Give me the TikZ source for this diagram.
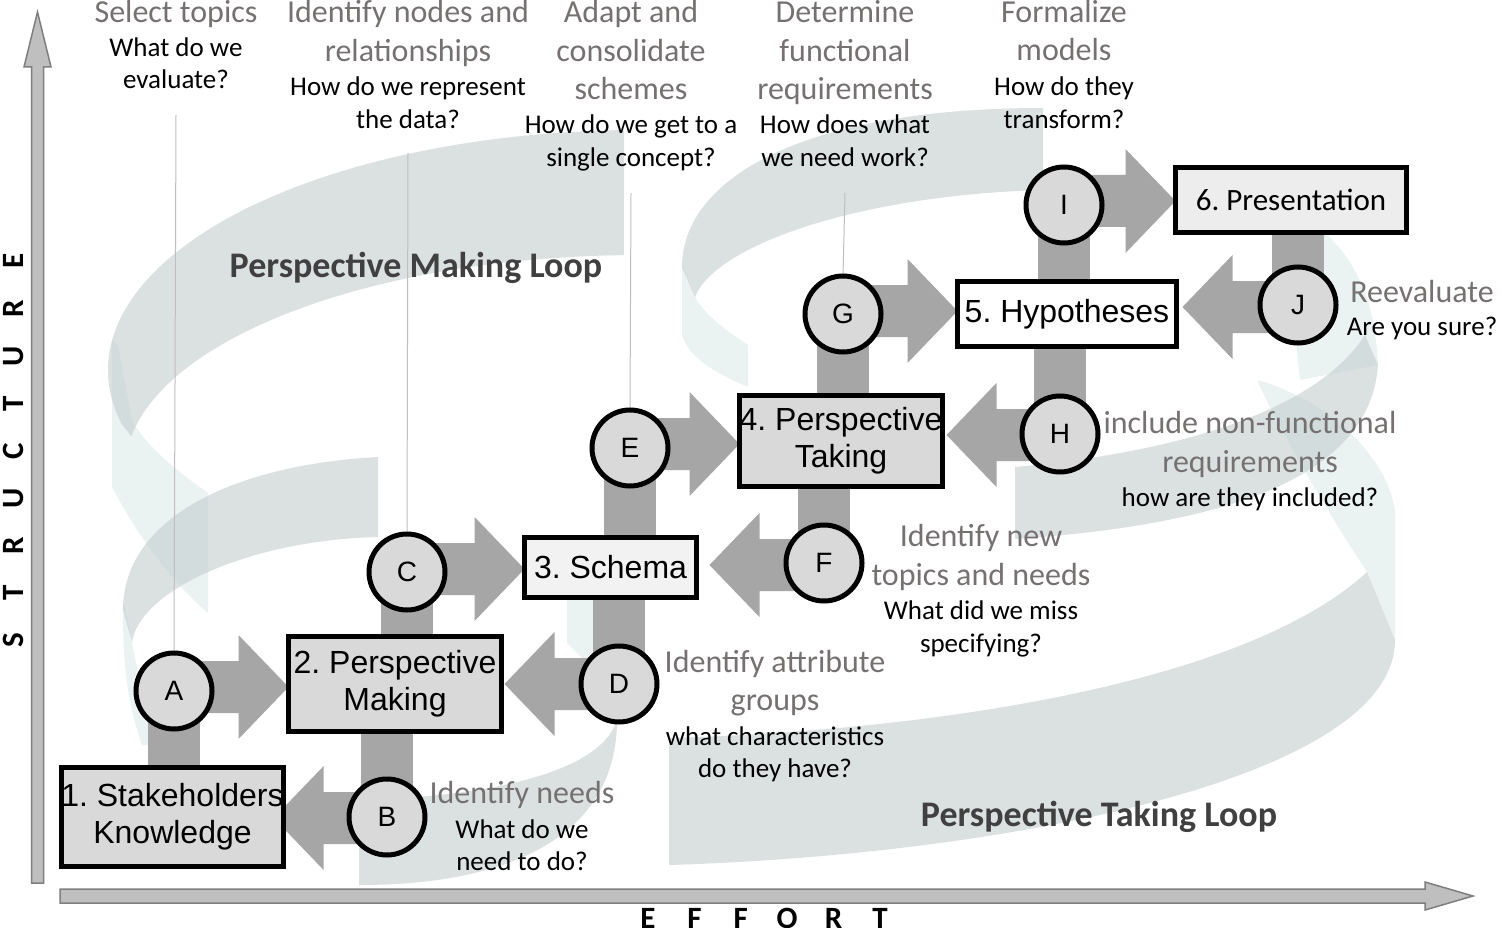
\documentclass[tikz,border=0pt]{standalone}
\usepackage{fontspec}
\setmainfont{Carlito}
\newfontfamily\arialf{Liberation Sans}
\usetikzlibrary{calc}
\frenchspacing
\pgfdeclarelayer{bands}
\pgfdeclarelayer{links}
\pgfsetlayers{bands,links,main}
\definecolor{conn}{HTML}{A6A6A6}
\definecolor{boxD}{HTML}{D9D9D9}
\definecolor{boxL}{HTML}{F2F2F2}
\definecolor{boxP}{HTML}{EDEDED}
\definecolor{txtgray}{HTML}{767171}
\definecolor{loopgray}{HTML}{404040}
\definecolor{axfill}{HTML}{BFBFBF}
\definecolor{axline}{HTML}{7F7F7F}
\definecolor{bandbase}{HTML}{C8D1D1}
\definecolor{bandlight}{HTML}{EAF2F2}
\definecolor{leader}{HTML}{BFBFBF}
\tikzset{
 stepbox/.style={draw=black, line width=5pt, rectangle, inner sep=0pt, outer sep=0pt, align=center, font=\frenchspacing\arialf\fontsize{32}{37}\selectfont},
 stepcircle/.style={draw=black, line width=5pt, circle, fill=boxD, minimum size=76pt, inner sep=0pt, outer sep=0pt, font=\arialf\fontsize{28}{32}\selectfont},
 linkfill/.style={fill=conn},
 bandD/.style={fill=bandbase, fill opacity=0.65},
 bandL/.style={fill=bandlight},
 gtxt/.style={anchor=base, inner sep=0pt, text=txtgray, font=\fontsize{32}{38}\selectfont},
 btxt/.style={anchor=base, inner sep=0pt, text=black, font=\fontsize{27}{32}\selectfont},
 loopl/.style={anchor=base, inner sep=0pt, text=loopgray, font=\bfseries\fontsize{36}{41}\selectfont},
 axisfill/.style={fill=axfill, draw=axline, line width=1.5pt},
 axtxt/.style={inner sep=0pt, font=\bfseries\fontsize{31}{36}\selectfont},
 leaderline/.style={draw=leader, line width=1pt},
}
\newcommand{\blockR}[4]{%
 \fill[linkfill] let \p1=($(#1.center)+(0,#4)$), \p2=($(#2)+(#3,0)$) in
 (\x1,\y1+26pt) -- (\x2-50pt,\y1+26pt) -- (\x2-50pt,\y1+52pt) -- (\x2,\y1) -- (\x2-50pt,\y1-52pt) -- (\x2-50pt,\y1-26pt) -- (\x1,\y1-26pt) -- cycle;}
\newcommand{\blockL}[4]{%
 \fill[linkfill] let \p1=($(#1.center)+(0,#4)$), \p2=($(#2)+(#3,0)$) in
 (\x1,\y1+26pt) -- (\x2+50pt,\y1+26pt) -- (\x2+50pt,\y1+52pt) -- (\x2,\y1) -- (\x2+50pt,\y1-52pt) -- (\x2+50pt,\y1-26pt) -- (\x1,\y1-26pt) -- cycle;}
\newcommand{\stembar}[2]{%
 \fill[linkfill] let \p1=(#1.center), \p2=(#2) in (\x1-26pt,\y1) rectangle (\x1+26pt,\y2);}
\newcommand{\axl}[1]{\makebox[47.4pt]{#1}}
\newcommand{\axm}[1]{\makebox[46.4pt]{#1}}
\begin{document}
\begin{tikzpicture}[x=1pt,y=-1pt]
\useasboundingbox (0,0) rectangle (1502,928);
\begin{pgfonlayer}{bands}
\fill[white] (0,0) rectangle (1502,928);
% light back faces
\fill[bandL] (112,340) -- (112,487) .. controls (140,540) and (175,585) .. (208,613) -- (208,493) .. controls (175,470) and (145,445) .. (132,420) -- (118,345) -- cycle;
\fill[bandL] (123,600) .. controls (122,680) and (132,715) .. (142,745) -- (165,745) .. controls (150,700) and (135,670) .. (132,642) -- cycle;
\fill[bandL] (567,598) -- (605,598) -- (605,662) -- (582,658) -- (567,643) -- cycle;
\fill[bandL] (682,262) -- (682,335) .. controls (690,360) and (720,375) .. (748,387) -- (748,345) .. controls (725,330) and (705,315) .. (695,297) -- cycle;
\fill[bandL] (1285,233) -- (1325,233) .. controls (1355,260) and (1375,300) .. (1378,365) -- (1300,380) -- cycle;
\fill[bandL] (1257,380) .. controls (1330,400) and (1390,460) .. (1395,513) -- (1395,640) -- (1367,572) .. controls (1320,500) and (1280,430) .. (1257,380) -- cycle;
% dark front faces
\fill[bandD] (624.2,130.1) arc[start angle=-91.7, end angle=-193, x radius=532, y radius=240] -- (131.3,436.4) arc[start angle=-171, end angle=-91.8, x radius=515, y radius=215] -- cycle;
\fill[bandD] (378,457) .. controls (230,465) and (123,520) .. (123,610) -- (132,642) .. controls (140,590) and (250,540) .. (378,537) -- cycle;
\fill[bandD] (359,885) .. controls (520,885) and (617,830) .. (617,720) .. controls (600,775) and (480,797) .. (359,800) -- cycle;
\fill[bandD] (1043,108) .. controls (800,108) and (682,180) .. (682,267) -- (695,297) .. controls (715,245) and (860,195) .. (1043,190) -- cycle;
\fill[bandD] (1015,467) .. controls (1150,455) and (1310,420) .. (1365,335) -- (1378,365) .. controls (1370,480) and (1220,525) .. (1015,539) -- cycle;
\fill[bandD] (669,738) .. controls (950,730) and (1250,680) .. (1367,572) -- (1395,640) .. controls (1395,780) and (1000,855) .. (669,865) -- cycle;
\end{pgfonlayer}

% axes
\draw[axisfill] (31.5,883) -- (31.5,67) -- (24,67) -- (37.5,12) -- (51,67) -- (43.5,67) -- (43.5,883) -- cycle;
\draw[axisfill] (60,889) -- (1425,889) -- (1425,882) -- (1473,896) -- (1425,910) -- (1425,903) -- (60,903) -- cycle;
\node[axtxt, rotate=90] (ystruct) at (13,451) {\axl{S}\axl{T}\axl{R}\axl{U}\axl{C}\axl{T}\axl{U}\axl{R}\axl{E}};
\node[axtxt, anchor=base] (xeffort) at (764,928) {\axm{E}\axm{F}\axm{F}\axm{O}\axm{R}\axm{T}};

% boxes
\node[stepbox, fill=boxD, minimum width=220pt, minimum height=99pt] (B1) at (172.5,817) {1. Stakeholders\\Knowledge};
\node[stepbox, fill=boxD, minimum width=213pt, minimum height=95pt] (B2) at (395,684) {2. Perspective\\Making};
\node[stepbox, fill=boxL, minimum width=172pt, minimum height=60pt] (B3) at (610.5,567.5) {3. Schema};
\node[stepbox, fill=boxD, minimum width=203pt, minimum height=91pt] (B4) at (841,441) {4. Perspective\\Taking};
\node[stepbox, fill=white, minimum width=219pt, minimum height=65pt] (B5) at (1067,314) {5. Hypotheses};
\node[stepbox, fill=boxP, minimum width=231pt, minimum height=65pt, font=\frenchspacing\fontsize{31}{36}\selectfont] (B6) at (1291,200) {6. Presentation};

% circles
\node[stepcircle] (A) at (174,691) {A};
\node[stepcircle] (B) at (387,817) {B};
\node[stepcircle] (C) at (407,572) {C};
\node[stepcircle] (D) at (619,684) {D};
\node[stepcircle] (E) at (630,448) {E};
\node[stepcircle] (F) at (824,563) {F};
\node[stepcircle] (G) at (843,314) {G};
\node[stepcircle] (H) at (1060,434) {H};
\node[stepcircle] (I) at (1064,205) {I};
\node[stepcircle] (J) at (1298,305) {J};

\coordinate (lA) at (176,115);
\coordinate (lC) at (408,153);
\coordinate (lE) at (631,193);
\coordinate (lG) at (845,193);

\begin{pgfonlayer}{links}
\draw[leaderline] (lA) -- (A.north);
\draw[leaderline] (lC) -- (C.north);
\draw[leaderline] (lE) -- (E.north);
\draw[leaderline] (lG) -- (G.north);
\stembar{A}{B1.north}
\stembar{B}{B2.south}
\stembar{C}{B2.north}
\stembar{D}{B3.south}
\stembar{E}{B3.north}
\stembar{F}{B4.south}
\stembar{G}{B4.north}
\stembar{H}{B5.south}
\stembar{I}{B5.north}
\stembar{J}{B6.south}
\blockR{A}{B2.west}{0}{-4}
\blockR{C}{B3.west}{0}{-3}
\blockR{E}{B4.west}{0}{-4}
\blockR{G}{B5.west}{0}{-3}
\blockR{I}{B6.west}{0}{-4}
\blockL{B}{B1.east}{-10}{1}
\blockL{D}{B2.east}{3}{0}
\blockL{F}{B3.east}{13}{2}
\blockL{H}{B4.east}{4}{1}
\blockL{J}{B5.east}{6}{2}
\end{pgfonlayer}

% loop labels
\node[loopl] (pml) at (416,277) {Perspective Making Loop};
\node[loopl] (ptl) at (1099,826) {Perspective Taking Loop};

% column 1
\node[gtxt] (c1g1) at (176,23) {Select topics};
\node[btxt] (c1b1) at (176,57) {What do we};
\node[btxt] (c1b2) at (176,89) {evaluate?};
% column 2
\node[gtxt] (c2g1) at (408,23) {Identify nodes and};
\node[gtxt] (c2g2) at (408,62) {relationships};
\node[btxt] (c2b1) at (408,96) {How do we represent};
\node[btxt] (c2b2) at (408,129) {the data?};
% column 3
\node[gtxt] (c3g1) at (631,23) {Adapt and};
\node[gtxt] (c3g2) at (631,62) {consolidate};
\node[gtxt] (c3g3) at (631,100) {schemes};
\node[btxt] (c3b1) at (631,134) {How do we get to a};
\node[btxt] (c3b2) at (631,167) {single concept?};
% column 4
\node[gtxt] (c4g1) at (845,23) {Determine};
\node[gtxt] (c4g2) at (845,62) {functional};
\node[gtxt] (c4g3) at (845,100) {requirements};
\node[btxt] (c4b1) at (845,134) {How does what};
\node[btxt] (c4b2) at (845,167) {we need work?};
% column 5
\node[gtxt] (c5g1) at (1064,23) {Formalize};
\node[gtxt] (c5g2) at (1064,61) {models};
\node[btxt] (c5b1) at (1064,96) {How do they};
\node[btxt] (c5b2) at (1064,129) {transform?};
% J
\node[gtxt] (jg1) at (1422,302) {Reevaluate};
\node[btxt] (jb1) at (1422,335) {Are you sure?};
% H
\node[gtxt] (hg1) at (1250,433) {include non-functional};
\node[gtxt] (hg2) at (1250,472) {requirements};
\node[btxt] (hb1) at (1250,506) {how are they included?};
% F
\node[gtxt] (fg1) at (981,546) {Identify new};
\node[gtxt] (fg2) at (981,585) {topics and needs};
\node[btxt] (fb1) at (981,619) {What did we miss};
\node[btxt] (fb2) at (981,652) {specifying?};
% D
\node[gtxt] (dg1) at (775,672) {Identify attribute};
\node[gtxt] (dg2) at (775,710) {groups};
\node[btxt] (db1) at (775,745) {what characteristics};
\node[btxt] (db2) at (775,777) {do they have?};
% B
\node[gtxt] (bg1) at (522,803) {Identify needs};
\node[btxt] (bb1) at (522,838) {What do we};
\node[btxt] (bb2) at (522,870) {need to do?};
\end{tikzpicture}
\end{document}
